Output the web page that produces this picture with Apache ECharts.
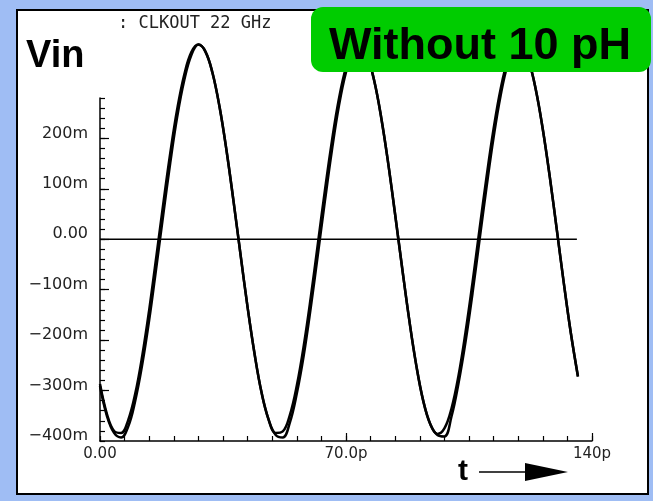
<!DOCTYPE html>
<html>
<head>
<meta charset="utf-8">
<script src="https://cdn.jsdelivr.net/npm/echarts@6/dist/echarts.min.js"></script>
<style>
  html, body { margin: 0; padding: 0; background: #9fbdf4; }
  #wrap { position: relative; width: 653px; height: 501px; background: #9fbdf4; overflow: hidden; }
  #panel { position: absolute; left: 16px; top: 9px; width: 629px; height: 482px; background: #fff; border: 2px solid #000; }
  #chart { position: absolute; left: 0; top: 0; width: 653px; height: 501px; }
</style>
</head>
<body>
<div id="wrap">
  <div id="panel"></div>
  <div id="chart"></div>
</div>
<script>
// ---- data (time in ps, voltage in mV) ----
const times = [0,2,4,6,8,10,12,14,16,18,20,22,24,26,28,30,32,34,36,38,40,42,44,46,48,50,52,54,56,58,60,62,64,66,68,70,72,74,76,78,80,82,84,86,88,90,92,94,96,98,100,102,104,106,108,110,112,114,116,118,120,122,124,126,128,130,132,134,136];
const vinA = [-287,-347,-380,-384,-359,-307,-232,-140,-36,70,171,259,327,371,386,372,330,263,176,75,-31,-135,-228,-305,-358,-384,-381,-349,-290,-210,-114,-9,97,195,279,341,377,385,364,315,242,151,48,-58,-160,-250,-321,-367,-386,-375,-336,-271,-185,-86,20,124,219,298,354,382,382,353,297,218,123,18,-88,-187,-272];
const vinB = [-291,-351,-384,-393,-372,-321,-249,-160,-57,49,152,244,316,365,386,372,330,263,176,75,-31,-135,-228,-305,-358,-388,-393,-364,-306,-229,-134,-30,76,177,265,331,372,385,364,315,242,151,48,-58,-160,-250,-321,-367,-388,-391,-352,-286,-204,-107,-1,104,202,285,346,379,382,353,297,218,123,18,-88,-187,-272];
const zeroLine = [[0, 0], [135.7, 0]];
const xLabelValues = [0, 70, 140];
const xLabelTexts = ['0.00', '70.0p', '140p'];
const yLabelValues = [-400, -300, -200, -100, 0, 100, 200];
const yLabelTexts = ['\u2212400m', '\u2212300m', '\u2212200m', '\u2212100m', '0.00', '100m', '200m'];
const titleText = ': CLKOUT 22 GHz';

const chart = echarts.init(document.getElementById('chart'), null, { renderer: 'canvas' });
const pair = (a) => times.map((t, i) => [t, a[i]]);

const option = {
  backgroundColor: 'transparent',
  animation: false,
  grid: { left: 100, right: 61, top: 98, bottom: 60, containLabel: false },
  xAxis: [
    {
      type: 'value', min: 0, max: 140, interval: 7,
      axisLine: { show: true, onZero: false, lineStyle: { color: '#000', width: 1.5 } },
      axisTick: { show: true, inside: true, length: 5, lineStyle: { color: '#000', width: 1.2 } },
      axisLabel: {
        margin: 6, customValues: xLabelValues,
        fontFamily: 'DejaVu Sans', fontSize: 15, color: '#222',
        formatter: (v) => xLabelTexts[xLabelValues.indexOf(v)] || ''
      },
      splitLine: { show: false }
    },
    {
      type: 'value', min: 0, max: 140, position: 'bottom', offset: 0,
      axisLine: { show: false, onZero: false },
      axisTick: { show: true, inside: true, length: 8, customValues: [70, 140], lineStyle: { color: '#000', width: 1.2 } },
      axisLabel: { show: false },
      splitLine: { show: false }
    }
  ],
  yAxis: [
    {
      type: 'value', min: -400, max: 280, interval: 20,
      axisLine: { show: true, onZero: false, lineStyle: { color: '#000', width: 1.5 } },
      axisTick: { show: true, inside: true, length: 5, lineStyle: { color: '#000', width: 1.2 } },
      axisLabel: {
        margin: 12, customValues: yLabelValues,
        fontFamily: 'DejaVu Sans', fontSize: 16, color: '#222',
        verticalAlign: 'bottom', lineHeight: 10,
        formatter: (v) => yLabelTexts[yLabelValues.indexOf(v)] || ''
      },
      splitLine: { show: false }
    },
    {
      type: 'value', min: -400, max: 280, position: 'left', offset: 0,
      axisLine: { show: false, onZero: false },
      axisTick: { show: true, inside: true, length: 9, customValues: [-300, -200, -100, 0, 100, 200], lineStyle: { color: '#000', width: 1.2 } },
      axisLabel: { show: false },
      splitLine: { show: false }
    }
  ],
  series: [
    {
      type: 'line', data: zeroLine, showSymbol: false, clip: false,
      lineStyle: { color: '#000', width: 1.3 }, z: 2
    },
    {
      type: 'line', data: pair(vinA), smooth: 0.4, showSymbol: false, clip: false,
      lineStyle: { color: '#000', width: 2.5 }, z: 3
    },
    {
      type: 'line', data: pair(vinB), smooth: 0.4, showSymbol: false, clip: false,
      lineStyle: { color: '#000', width: 2.5 }, z: 3
    }
  ],
  graphic: [
    {
      type: 'text', x: 118, y: 24, z: 50,
      style: { text: titleText, fontFamily: 'DejaVu Sans Mono', fontSize: 17, fill: '#222', verticalAlign: 'middle' }
    },
    {
      type: 'text', x: 26, y: 57, z: 50,
      style: { text: 'Vin', fontFamily: 'Liberation Sans', fontWeight: 'bold', fontSize: 38, fill: '#000', verticalAlign: 'middle' }
    },
    {
      type: 'rect', z: 60,
      shape: { x: 311, y: 7, width: 340, height: 65, r: 12 },
      style: { fill: '#00cc00' }
    },
    {
      type: 'text', x: 480, y: 47, z: 61,
      style: { text: 'Without 10 pH', fontFamily: 'Liberation Sans', fontWeight: 'bold', fontSize: 45, fill: '#000', align: 'center', verticalAlign: 'middle' }
    },
    {
      type: 'text', x: 463, y: 472, z: 50,
      style: { text: 't', fontFamily: 'Liberation Sans', fontWeight: 'bold', fontSize: 30, fill: '#000', align: 'center', verticalAlign: 'middle' }
    },
    {
      type: 'line', z: 50,
      shape: { x1: 479, y1: 472, x2: 530, y2: 472 },
      style: { stroke: '#000', lineWidth: 1.5 }
    },
    {
      type: 'polygon', z: 50,
      shape: { points: [[525, 463], [568, 472], [525, 481]] },
      style: { fill: '#000' }
    }
  ]
};
chart.setOption(option);
</script>
</body>
</html>
